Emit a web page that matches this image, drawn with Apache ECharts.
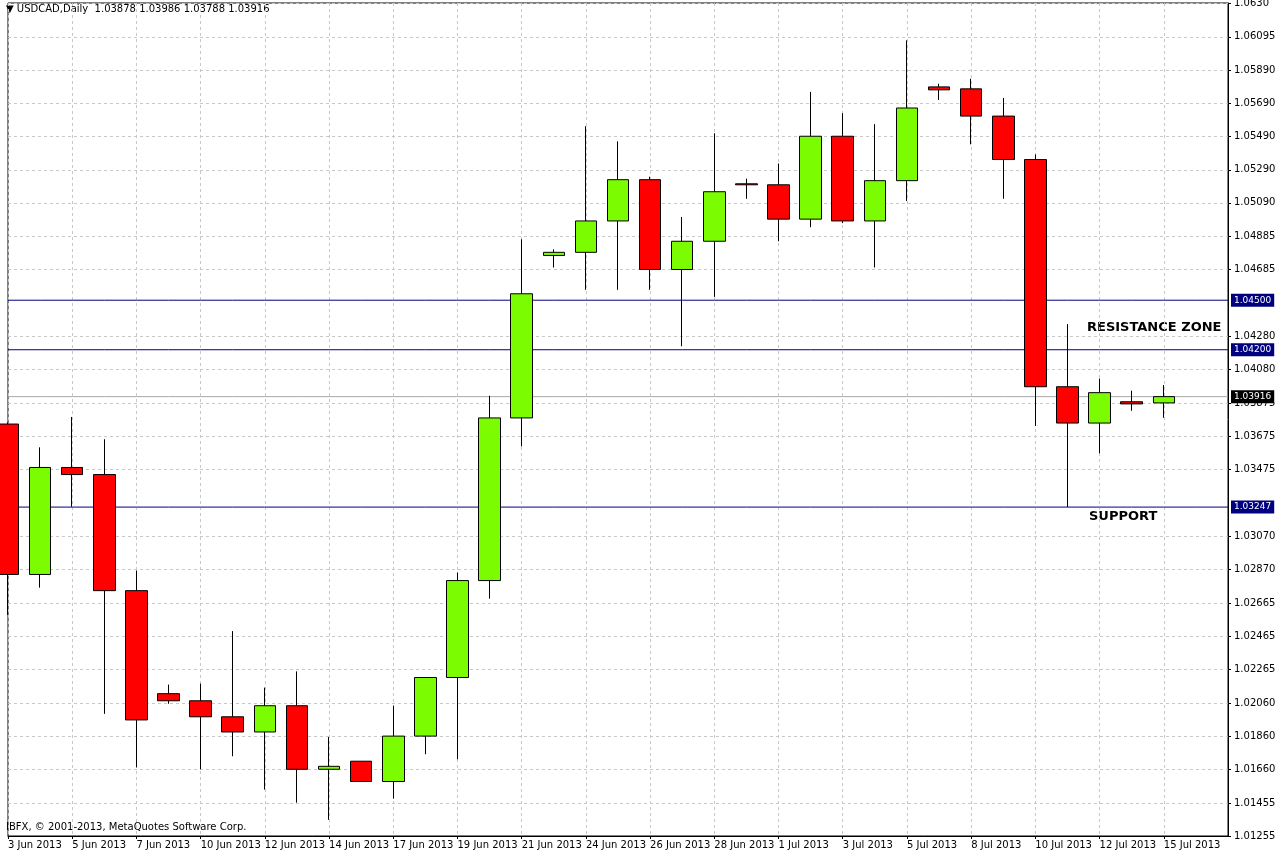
<!DOCTYPE html>
<html>
<head>
<meta charset="utf-8">
<script src="https://cdn.jsdelivr.net/npm/echarts@6/dist/echarts.min.js"></script>
<style>html,body{margin:0;padding:0;background:#fff}#main{width:1276px;height:853px}</style>
</head>
<body>
<div id="main"></div>
<script>
// bar dates (broker has Sunday bars)
var dates = ['3 Jun 2013','4 Jun 2013','5 Jun 2013','6 Jun 2013','7 Jun 2013','9 Jun 2013','10 Jun 2013','11 Jun 2013','12 Jun 2013','13 Jun 2013',
  '14 Jun 2013','16 Jun 2013','17 Jun 2013','18 Jun 2013','19 Jun 2013','20 Jun 2013','21 Jun 2013','23 Jun 2013','24 Jun 2013','25 Jun 2013',
  '26 Jun 2013','27 Jun 2013','28 Jun 2013','30 Jun 2013','1 Jul 2013','2 Jul 2013','3 Jul 2013','4 Jul 2013','5 Jul 2013','7 Jul 2013',
  '8 Jul 2013','9 Jul 2013','10 Jul 2013','11 Jul 2013','12 Jul 2013','14 Jul 2013','15 Jul 2013','',''];

// open, close, low, high
var opens  = [1.0375,1.02839,1.03487,1.03444,1.02741,1.02117,1.02074,1.01977,1.01885,1.02044,1.01659,1.01708,1.01585,1.0186,1.02215,1.02802,1.03787,1.04771,1.0479,1.0498,
  1.0523,1.04686,1.04857,1.05205,1.05199,1.04991,1.05493,1.0498,1.05224,1.05792,1.0578,1.05615,1.05352,1.03976,1.03756,1.03885,1.03878];
var closes = [1.02839,1.03487,1.03444,1.02741,1.01958,1.02074,1.01977,1.01885,1.02044,1.01659,1.01677,1.01585,1.0186,1.02215,1.02802,1.03787,1.04539,1.0479,1.0498,1.0523,
  1.04686,1.04857,1.05157,1.05199,1.04991,1.05493,1.0498,1.05224,1.05664,1.05774,1.05615,1.05352,1.03976,1.03756,1.0394,1.03872,1.03916];
var lows   = [1.02594,1.02759,1.03249,1.01995,1.01671,1.02056,1.01659,1.01738,1.01536,1.01457,1.01353,1.01585,1.01481,1.0175,1.0172,1.02692,1.03615,1.04698,1.04563,1.04563,
  1.04563,1.04221,1.0452,1.05114,1.04857,1.04942,1.04967,1.04698,1.05101,1.05713,1.05444,1.05114,1.03738,1.03247,1.03573,1.0383,1.03788];
var highs  = [1.0376,1.03609,1.03793,1.03658,1.02863,1.02172,1.02178,1.02496,1.02154,1.02252,1.01854,1.01708,1.02044,1.02215,1.02851,1.03921,1.04869,1.04808,1.05554,1.05462,
  1.05248,1.05004,1.05511,1.05236,1.05328,1.05762,1.05633,1.05566,1.06074,1.05811,1.05841,1.05725,1.05383,1.04355,1.04025,1.03952,1.03986];

var priceTicks = [1.0630,1.06095,1.0589,1.0569,1.0549,1.0529,1.0509,1.04885,1.04685,1.0428,1.0408,1.03875,1.03675,1.03475,1.0307,1.0287,1.02665,1.02465,1.02265,1.0206,1.0186,1.0166,1.01455,1.01255];
var levels = [1.0450, 1.0420, 1.03247];
var lastPrice = 1.03916;

var chart = echarts.init(document.getElementById('main'));

var candles = [];
for (var i = 0; i < opens.length; i++) {
    candles.push([opens[i], closes[i], lows[i], highs[i]]);
}

function levelSeries(v, lineColor, boxColor) {
    var d = dates.map(function () { return v; });
    return {
        type: 'line',
        data: d,
        symbol: 'none',
        silent: true,
        z: 1,
        lineStyle: {color: lineColor, width: 1},
        endLabel: {show: true, formatter: v.toFixed(5), fontSize: 9, color: '#fff',
            backgroundColor: boxColor, padding: [2, 3], distance: 3}
    };
}

var series = [{
    type: 'candlestick',
    data: candles,
    barWidth: 22,
    clip: true,
    z: 3,
    itemStyle: {
        color: '#7cfc00', color0: '#ff0000',
        borderColor: '#000', borderColor0: '#000', borderWidth: 1
    }
}];
levels.forEach(function (v) { series.push(levelSeries(v, '#000080', '#000080')); });
series.push(levelSeries(lastPrice, '#a8a8a8', '#000'));

chart.setOption({
    animation: false,
    backgroundColor: '#fff',
    textStyle: {fontFamily: 'DejaVu Sans'},
    grid: {left: 8, right: 48, top: 3, bottom: 17, outerBoundsMode: 'none', containLabel: false,
        show: true, borderColor: '#000', borderWidth: 1},
    xAxis: {
        type: 'category',
        data: dates,
        boundaryGap: false,
        axisLine: {lineStyle: {color: '#000'}},
        axisTick: {show: true, interval: 1, length: 3, lineStyle: {color: '#000'}},
        axisLabel: {interval: 1, color: '#000', fontSize: 10, align: 'left', margin: 4, showMinLabel: true, showMaxLabel: false, hideOverlap: false},
        splitLine: {show: true, interval: 1, lineStyle: {color: '#c8c8c8', type: [3, 3]}}
    },
    yAxis: {
        type: 'value',
        position: 'right',
        min: 1.01255,
        max: 1.0630,
        axisLine: {show: true, lineStyle: {color: '#000'}},
        axisTick: {show: true, length: 3, customValues: priceTicks, lineStyle: {color: '#000'}},
        axisLabel: {customValues: priceTicks, color: '#000', fontSize: 10, margin: 6,
            formatter: function (v) { return v === 1.063 ? '1.0630' : v.toFixed(5); }},
        splitLine: {show: true, lineStyle: {color: '#c8c8c8', type: [3, 3]}}
    },
    series: series,
    graphic: [
        {type: 'text', left: 6, top: 4, style: {text: '\u25BC USDCAD,Daily  1.03878 1.03986 1.03788 1.03916', fontSize: 10, fill: '#000', fontFamily: 'DejaVu Sans'}},
        {type: 'text', left: 6, top: 822, style: {text: 'IBFX, \u00A9 2001-2013, MetaQuotes Software Corp.', fontSize: 10, fill: '#000', fontFamily: 'DejaVu Sans'}},
        {type: 'text', left: 1087, top: 321, style: {text: 'RESISTANCE ZONE', fontSize: 13, fontWeight: 'bold', fill: '#000', fontFamily: 'DejaVu Sans'}},
        {type: 'text', left: 1089, top: 510, style: {text: 'SUPPORT', fontSize: 13, fontWeight: 'bold', fill: '#000', fontFamily: 'DejaVu Sans'}}
    ]
});
</script>
</body>
</html>
